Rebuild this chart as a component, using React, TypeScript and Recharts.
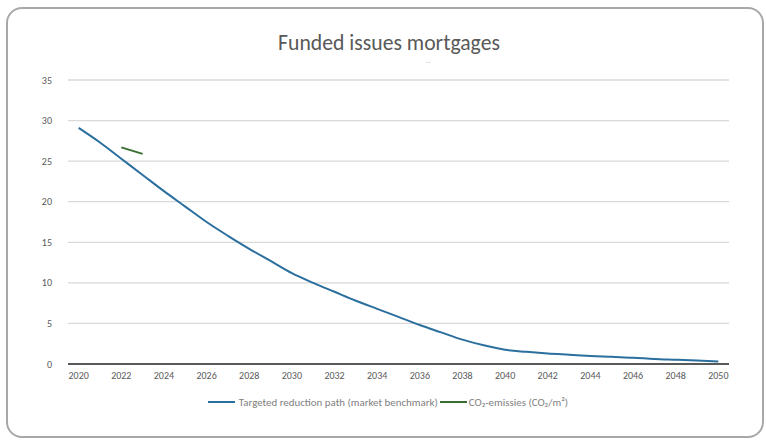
import { LineChart, Line, XAxis, YAxis, CartesianGrid, Legend, ReferenceLine } from 'recharts';

const YEARS = [
  '2020', '2021', '2022', '2023', '2024', '2025', '2026', '2027', '2028', '2029',
  '2030', '2031', '2032', '2033', '2034', '2035', '2036', '2037', '2038', '2039',
  '2040', '2041', '2042', '2043', '2044', '2045', '2046', '2047', '2048', '2049', '2050',
];

// Targeted reduction path (market benchmark)
const BENCHMARK = [
  29.1, 27.3, 25.3, 23.3, 21.3, 19.4, 17.5, 15.8, 14.2, 12.7,
  11.2, 10.0, 8.9, 7.8, 6.8, 5.8, 4.8, 3.9, 3.0, 2.3,
  1.75, 1.5, 1.3, 1.15, 1.0, 0.88, 0.78, 0.62, 0.52, 0.42, 0.3,
];

// CO2-emissies, alleen 2022 en 2023 bekend
const EMISSIONS: (number | null)[] = YEARS.map(() => null);
EMISSIONS[2] = 26.7;
EMISSIONS[3] = 25.9;

const Y_TICKS = [0, 5, 10, 15, 20, 25, 30, 35];
const X_TICKS = YEARS.filter((_, i) => i % 2 === 0);

const SERIES = [
  { key: 'benchmark', name: 'Targeted reduction path (market benchmark)', color: '#2b6f9e' },
  { key: 'emissions', name: 'CO₂-emissies (CO₂/m²)', color: '#3a6e33' },
];

const FONT = 'Calibri, "Open Sans", "Noto Sans", sans-serif';
const GREY = '#595959';

const data = YEARS.map((year, i) => ({
  year,
  benchmark: BENCHMARK[i],
  emissions: EMISSIONS[i],
}));

function LegendContent() {
  return (
    <div
      style={{
        height: 20,
        display: 'flex',
        justifyContent: 'center',
        alignItems: 'center',
        fontFamily: FONT,
        fontSize: 10.9,
        color: '#7f7f7f',
        paddingLeft: 47,
      }}
    >
      {SERIES.map((s, i) => (
        <span key={s.key} style={{ display: 'flex', alignItems: 'center', marginLeft: i ? 2 : 0 }}>
          <span style={{ width: 27, height: 2, background: s.color, display: 'inline-block', marginRight: i ? 2 : 4 }} />
          <span>{s.name}</span>
        </span>
      ))}
    </div>
  );
}

export default function App() {
  return (
    <div style={{ position: 'absolute', left: 0, top: 0, width: 766, height: 440, background: '#fff' }}>
      {/* kader */}
      <div
        style={{
          position: 'absolute',
          left: 6,
          top: 7,
          width: 754,
          height: 427,
          border: '2px solid #a8a8a8',
          borderRadius: 16,
        }}
      />
      <div
        style={{
          position: 'absolute',
          left: 0,
          top: 29,
          width: 778,
          textAlign: 'center',
          fontFamily: FONT,
          fontSize: 21.7,
          color: GREY,
        }}
      >
        Funded issues mortgages
      </div>
      <div
        style={{
          position: 'absolute',
          left: 426,
          top: 56,
          fontFamily: FONT,
          fontSize: 7,
          color: '#999',
          letterSpacing: 1,
        }}
      >
        ..
      </div>
      <div style={{ position: 'absolute', left: 0, top: 0 }}>
        <LineChart width={766} height={440} data={data} margin={{ top: 80, right: 37, bottom: 28, left: 0 }}>
          <CartesianGrid vertical={false} stroke="#d9d9d9" strokeWidth={1.3} />
          <XAxis
            dataKey="year"
            scale="band"
            ticks={X_TICKS}
            interval={0}
            height={28}
            axisLine={false}
            tickLine={false}
            tick={{ fill: GREY, fontSize: 10, fontFamily: FONT }}
          />
          <YAxis
            width={68}
            domain={[0, 35]}
            ticks={Y_TICKS}
            axisLine={false}
            tickLine={false}
            tickMargin={10}
            tick={{ fill: GREY, fontSize: 10, fontFamily: FONT }}
          />
          <ReferenceLine y={0} stroke="#595959" strokeWidth={2} />
          <Legend verticalAlign="bottom" content={<LegendContent />} />
          {SERIES.map((s) => (
            <Line
              key={s.key}
              dataKey={s.key}
              name={s.name}
              stroke={s.color}
              strokeWidth={2}
              dot={false}
              type="monotone"
              connectNulls={false}
              isAnimationActive={false}
            />
          ))}
        </LineChart>
      </div>
    </div>
  );
}
